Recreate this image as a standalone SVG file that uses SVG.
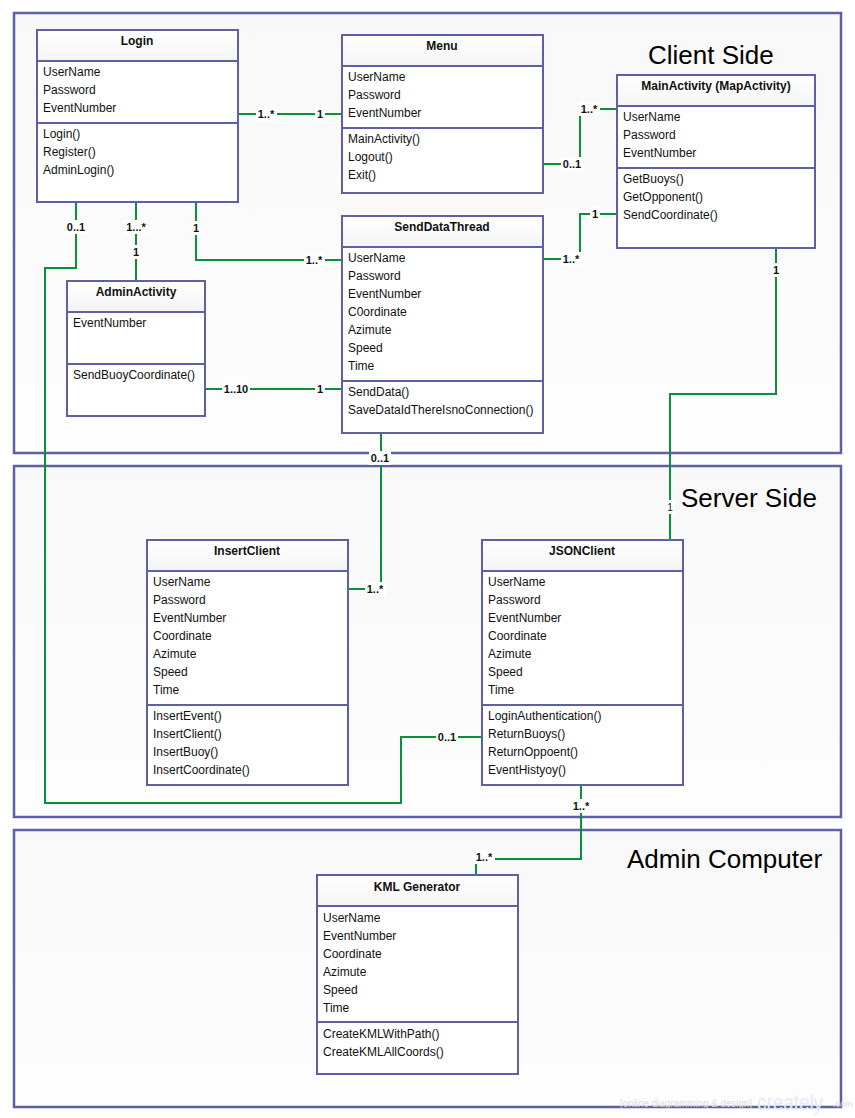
<svg xmlns="http://www.w3.org/2000/svg" width="855" height="1118" viewBox="0 0 855 1118">
<defs>
<linearGradient id="cg" x1="0" y1="0" x2="0" y2="1"><stop offset="0" stop-color="#f8f8f9"/><stop offset="1" stop-color="#fdfdfd"/></linearGradient>
<linearGradient id="hg" x1="0" y1="0" x2="0" y2="1"><stop offset="0" stop-color="#ffffff"/><stop offset="1" stop-color="#f4f4f4"/></linearGradient>
</defs>
<style>
.cont{fill:url(#cg);stroke:#5f5fa8;stroke-width:2.5}
.box{fill:#ffffff;stroke:#5f5fa8;stroke-width:2}
.hdr{fill:url(#hg);stroke:none}
.div{stroke:#5f5fa8;stroke-width:2}
.t{font-family:"Liberation Sans",Arial,sans-serif;font-size:12px;fill:#111}
.ti{font-family:"Liberation Sans",Arial,sans-serif;font-size:12px;font-weight:bold;fill:#111;text-anchor:middle}
.big{font-family:"Liberation Sans",Arial,sans-serif;font-size:26px;fill:#000}
.con{fill:none;stroke:#0a8f3c;stroke-width:2}
.lb{fill:#ffffff}
.lt{font-family:"Liberation Sans",Arial,sans-serif;font-size:11px;font-weight:bold;fill:#111;text-anchor:middle}
</style>
<rect width="855" height="1118" fill="#ffffff"/>
<g id="client-side">
<rect class="cont" x="14" y="13" width="827" height="440"/>
<text class="big" x="648" y="64">Client Side</text>
</g>
<g id="server-side">
<rect class="cont" x="14" y="466" width="827" height="351"/>
<text class="big" x="681" y="507">Server Side</text>
</g>
<g id="admin-computer">
<rect class="cont" x="14" y="830" width="827" height="277"/>
<text class="big" x="627" y="868">Admin Computer</text>
</g>
<g id="connectors">
<path class="con" d="M238,114 H342"/>
<path class="con" d="M543,164 H580 V109 H617"/>
<path class="con" d="M543,259 H580 V214 H617"/>
<path class="con" d="M136,202 V281"/>
<path class="con" d="M196,202 V260 H342"/>
<path class="con" d="M76,202 V268 H45 V803 H401 V737 H482"/>
<path class="con" d="M205,389 H342"/>
<path class="con" d="M381,433 V589 H348"/>
<path class="con" d="M776,248 V394 H670 V540"/>
<path class="con" d="M581,785 V859 H476 V875"/>
<g id="labels">
<rect class="lb" x="256" y="107" width="21" height="14"/><text class="lt" x="266" y="118">1..*</text>
<rect class="lb" x="315" y="107" width="10" height="14"/><text class="lt" x="320" y="118">1</text>
<rect class="lb" x="561" y="157" width="22" height="14"/><text class="lt" x="572" y="168">0..1</text>
<rect class="lb" x="579" y="102" width="21" height="14"/><text class="lt" x="589" y="113">1..*</text>
<rect class="lb" x="561" y="252" width="21" height="14"/><text class="lt" x="571" y="263">1..*</text>
<rect class="lb" x="590" y="207" width="10" height="14"/><text class="lt" x="595" y="218">1</text>
<rect class="lb" x="124" y="220" width="24" height="14"/><text class="lt" x="136" y="231">1...*</text>
<rect class="lb" x="131" y="245" width="10" height="14"/><text class="lt" x="136" y="256">1</text>
<rect class="lb" x="191" y="221" width="10" height="14"/><text class="lt" x="196" y="232">1</text>
<rect class="lb" x="304" y="253" width="21" height="14"/><text class="lt" x="314" y="264">1..*</text>
<rect class="lb" x="65" y="220" width="22" height="14"/><text class="lt" x="76" y="231">0..1</text>
<rect class="lb" x="436" y="730" width="22" height="14"/><text class="lt" x="447" y="741">0..1</text>
<rect class="lb" x="222" y="382" width="28" height="14"/><text class="lt" x="236" y="393">1..10</text>
<rect class="lb" x="315" y="382" width="10" height="14"/><text class="lt" x="320" y="393">1</text>
<rect class="lb" x="369" y="451" width="22" height="14"/><text class="lt" x="380" y="462">0..1</text>
<rect class="lb" x="365" y="582" width="21" height="14"/><text class="lt" x="375" y="593">1..*</text>
<rect class="lb" x="771" y="263" width="10" height="14"/><text class="lt" x="776" y="274">1</text>
<rect class="lb" x="665" y="500" width="10" height="14"/><text class="lt" x="670" y="511" style="font-weight:normal;font-size:10px">1</text>
<rect class="lb" x="570" y="799" width="22" height="14"/><text class="lt" x="581" y="810">1..*</text>
<rect class="lb" x="473" y="850" width="22" height="14"/><text class="lt" x="484" y="861">1..*</text>
</g>
</g>
<g id="Login">
<rect class="box" x="37" y="30" width="201" height="172"/>
<rect class="hdr" x="38" y="31" width="199" height="30"/>
<line class="div" x1="37" y1="61" x2="238" y2="61"/>
<line class="div" x1="37" y1="123" x2="238" y2="123"/>
<text class="ti" x="137" y="45">Login</text>
<text class="t" x="43" y="76">UserName</text><text class="t" x="43" y="94">Password</text><text class="t" x="43" y="112">EventNumber</text>
<text class="t" x="43" y="138">Login()</text><text class="t" x="43" y="156">Register()</text><text class="t" x="43" y="174">AdminLogin()</text>
</g>
<g id="Menu">
<rect class="box" x="342" y="35" width="201" height="158"/>
<rect class="hdr" x="343" y="36" width="199" height="30"/>
<line class="div" x1="342" y1="66" x2="543" y2="66"/>
<line class="div" x1="342" y1="128" x2="543" y2="128"/>
<text class="ti" x="442" y="50">Menu</text>
<text class="t" x="348" y="81">UserName</text><text class="t" x="348" y="99">Password</text><text class="t" x="348" y="117">EventNumber</text>
<text class="t" x="348" y="143">MainActivity()</text><text class="t" x="348" y="161">Logout()</text><text class="t" x="348" y="179">Exit()</text>
</g>
<g id="MainActivity">
<rect class="box" x="617" y="75" width="198" height="173"/>
<rect class="hdr" x="618" y="76" width="196" height="30"/>
<line class="div" x1="617" y1="106" x2="815" y2="106"/>
<line class="div" x1="617" y1="168" x2="815" y2="168"/>
<text class="ti" x="716" y="90">MainActivity (MapActivity)</text>
<text class="t" x="623" y="121">UserName</text><text class="t" x="623" y="139">Password</text><text class="t" x="623" y="157">EventNumber</text>
<text class="t" x="623" y="183">GetBuoys()</text><text class="t" x="623" y="201">GetOpponent()</text><text class="t" x="623" y="219">SendCoordinate()</text>
</g>
<g id="SendDataThread">
<rect class="box" x="342" y="216" width="201" height="217"/>
<rect class="hdr" x="343" y="217" width="199" height="30"/>
<line class="div" x1="342" y1="247" x2="543" y2="247"/>
<line class="div" x1="342" y1="381" x2="543" y2="381"/>
<text class="ti" x="442" y="231">SendDataThread</text>
<text class="t" x="348" y="262">UserName</text><text class="t" x="348" y="280">Password</text><text class="t" x="348" y="298">EventNumber</text><text class="t" x="348" y="316">C0ordinate</text><text class="t" x="348" y="334">Azimute</text><text class="t" x="348" y="352">Speed</text><text class="t" x="348" y="370">Time</text>
<text class="t" x="348" y="396">SendData()</text><text class="t" x="348" y="414">SaveDataIdThereIsnoConnection()</text>
</g>
<g id="AdminActivity">
<rect class="box" x="67" y="281" width="138" height="135"/>
<rect class="hdr" x="68" y="282" width="136" height="30"/>
<line class="div" x1="67" y1="312" x2="205" y2="312"/>
<line class="div" x1="67" y1="364" x2="205" y2="364"/>
<text class="ti" x="136" y="296">AdminActivity</text>
<text class="t" x="73" y="327">EventNumber</text>
<text class="t" x="73" y="379">SendBuoyCoordinate()</text>
</g>
<g id="InsertClient">
<rect class="box" x="147" y="540" width="201" height="245"/>
<rect class="hdr" x="148" y="541" width="199" height="30"/>
<line class="div" x1="147" y1="571" x2="348" y2="571"/>
<line class="div" x1="147" y1="705" x2="348" y2="705"/>
<text class="ti" x="247" y="555">InsertClient</text>
<text class="t" x="153" y="586">UserName</text><text class="t" x="153" y="604">Password</text><text class="t" x="153" y="622">EventNumber</text><text class="t" x="153" y="640">Coordinate</text><text class="t" x="153" y="658">Azimute</text><text class="t" x="153" y="676">Speed</text><text class="t" x="153" y="694">Time</text>
<text class="t" x="153" y="720">InsertEvent()</text><text class="t" x="153" y="738">InsertClient()</text><text class="t" x="153" y="756">InsertBuoy()</text><text class="t" x="153" y="774">InsertCoordinate()</text>
</g>
<g id="JSONClient">
<rect class="box" x="482" y="540" width="201" height="245"/>
<rect class="hdr" x="483" y="541" width="199" height="30"/>
<line class="div" x1="482" y1="571" x2="683" y2="571"/>
<line class="div" x1="482" y1="705" x2="683" y2="705"/>
<text class="ti" x="582" y="555">JSONClient</text>
<text class="t" x="488" y="586">UserName</text><text class="t" x="488" y="604">Password</text><text class="t" x="488" y="622">EventNumber</text><text class="t" x="488" y="640">Coordinate</text><text class="t" x="488" y="658">Azimute</text><text class="t" x="488" y="676">Speed</text><text class="t" x="488" y="694">Time</text>
<text class="t" x="488" y="720">LoginAuthentication()</text><text class="t" x="488" y="738">ReturnBuoys()</text><text class="t" x="488" y="756">ReturnOppoent()</text><text class="t" x="488" y="774">EventHistyoy()</text>
</g>
<g id="KMLGenerator">
<rect class="box" x="317" y="875" width="201" height="199"/>
<rect class="hdr" x="318" y="876" width="199" height="30"/>
<line class="div" x1="317" y1="906" x2="518" y2="906"/>
<line class="div" x1="317" y1="1022" x2="518" y2="1022"/>
<text class="ti" x="417" y="891">KML Generator</text>
<text class="t" x="323" y="922">UserName</text><text class="t" x="323" y="940">EventNumber</text><text class="t" x="323" y="958">Coordinate</text><text class="t" x="323" y="976">Azimute</text><text class="t" x="323" y="994">Speed</text><text class="t" x="323" y="1012">Time</text>
<text class="t" x="323" y="1038">CreateKMLWithPath()</text><text class="t" x="323" y="1056">CreateKMLAllCoords()</text>
</g>
<g id="watermark">
<text x="620" y="1107" font-family="'Liberation Sans',Arial,sans-serif" font-size="10" fill="#dedede" textLength="132" lengthAdjust="spacingAndGlyphs">[online diagramming &amp; design]</text>
<text x="757" y="1110" font-family="'Liberation Sans',Arial,sans-serif" font-size="22" fill="#e3ecf7" textLength="66" lengthAdjust="spacingAndGlyphs">creately</text>
<text x="833" y="1107" font-family="'Liberation Sans',Arial,sans-serif" font-size="9" fill="#dedede">.com</text>
</g>
</svg>
